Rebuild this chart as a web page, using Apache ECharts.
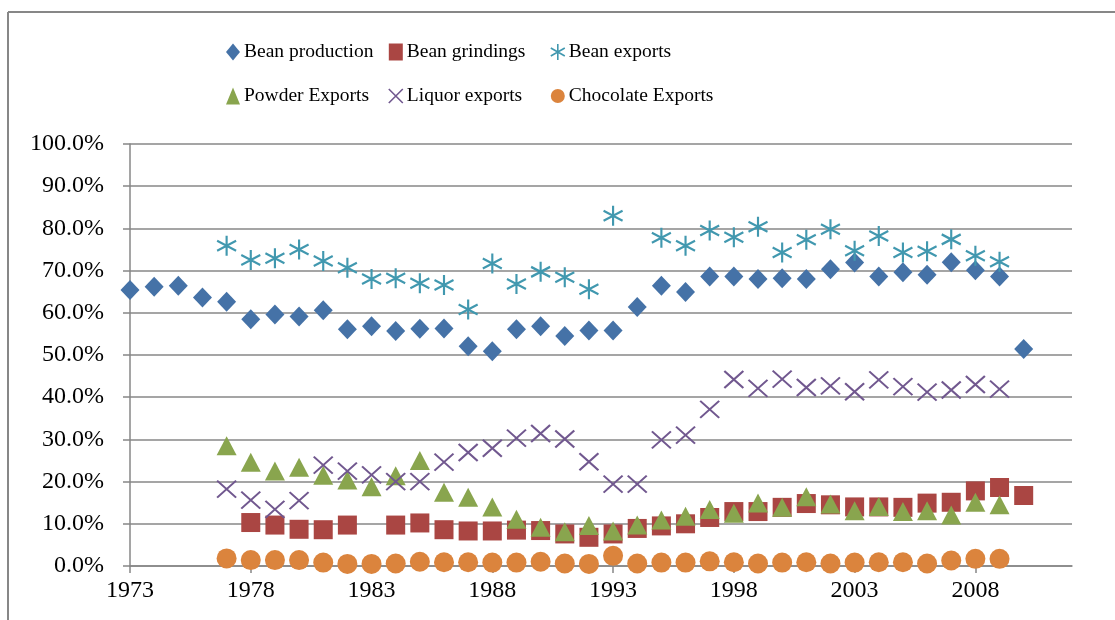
<!DOCTYPE html>
<html>
<head>
<meta charset="utf-8">
<script src="https://cdn.jsdelivr.net/npm/echarts@6/dist/echarts.min.js"></script>
<style>html,body{margin:0;padding:0;background:#fff}#c{width:1115px;height:620px}</style>
</head>
<body>
<div id="c"></div>
<script>
const years = [1973,1974,1975,1976,1977,1978,1979,1980,1981,1982,1983,1984,1985,1986,1987,1988,1989,1990,1991,1992,1993,1994,1995,1996,1997,1998,1999,2000,2001,2002,2003,2004,2005,2006,2007,2008,2009,2010];
const beanProduction = [65.4,66.2,66.4,63.6,62.6,58.5,59.6,59.1,60.6,56.1,56.8,55.7,56.2,56.3,52.1,50.9,56.1,56.8,54.5,55.8,55.8,61.4,66.4,64.9,68.6,68.6,68.0,68.2,68.0,70.3,71.9,68.6,69.6,69.0,72.0,70.1,68.6,51.4];
const beanGrindings = [null,null,null,null,null,10.3,9.7,8.7,8.6,9.7,null,9.7,10.2,8.6,8.3,8.3,8.5,8.4,7.6,6.8,7.6,8.9,9.5,10.0,11.5,12.9,12.9,13.9,14.8,14.5,14.0,14.0,13.9,14.9,15.1,17.8,18.6,16.7];
const beanExports = [null,null,null,null,75.9,72.5,72.9,75.0,72.3,70.7,68.0,68.2,67.0,66.6,60.8,71.7,66.8,69.7,68.4,65.6,83.0,null,77.8,75.9,79.5,77.9,80.4,74.3,77.3,79.8,74.7,78.2,74.3,74.6,77.4,73.5,72.1,null];
const powderExports = [null,null,null,null,28.5,24.6,22.5,23.4,21.5,20.4,18.8,21.4,25.0,17.5,16.3,14.0,11.1,9.2,8.1,9.6,8.3,9.7,10.9,11.8,13.4,12.5,14.9,13.9,16.4,14.7,13.1,14.1,12.9,13.1,12.1,15.1,14.5,null];
const liquorExports = [null,null,null,null,18.2,15.6,13.4,15.5,23.9,22.5,21.6,20.0,20.0,24.6,26.9,27.9,30.3,31.4,30.1,24.7,19.4,19.4,29.9,31.0,37.1,44.2,42.1,44.3,42.3,42.7,41.3,44.1,42.5,41.2,41.7,43.0,41.9,null];
const chocolateExports = [null,null,null,null,1.8,1.4,1.4,1.4,0.8,0.5,0.5,0.6,1.0,0.9,0.9,0.8,0.8,1.0,0.6,0.5,2.4,0.6,0.8,0.8,1.1,0.9,0.6,0.8,0.9,0.6,0.8,0.9,0.9,0.6,1.3,1.7,1.7,null];
const xTickLabels = [1973,1978,1983,1988,1993,1998,2003,2008];
const seriesNames = ['Bean production','Bean grindings','Bean exports','Powder Exports','Liquor exports','Chocolate Exports'];

const FONT = 'Liberation Serif';
const GRAY = '#878787';
const ASTERISK = 'path://M10,0 L10,20 M1.34,5 L18.66,15 M1.34,15 L18.66,5';
const XMARK = 'path://M0,0 L20,20 M0,20 L20,0';

function pts(arr){ return years.map((y,i)=>[y, arr[i]]).filter(p=>p[1]!==null); }

const styles = [
  {symbol:'diamond', size:[19,20], item:{color:'#4572A7', opacity:1}},
  {symbol:'rect', size:[19,19], item:{color:'#AA4643', opacity:1}},
  {symbol:ASTERISK, size:[19,20], item:{color:'rgba(0,0,0,0)', borderColor:'#4198AF', borderWidth:2.2, opacity:1}},
  {symbol:'triangle', size:[20,19], item:{color:'#89A54E', opacity:1}},
  {symbol:XMARK, size:[19,17], item:{color:'rgba(0,0,0,0)', borderColor:'#71588F', borderWidth:2, opacity:1}},
  {symbol:'circle', size:[20,20], item:{color:'#DB843D', opacity:1}}
];
const dataArrs = [beanProduction, beanGrindings, beanExports, powderExports, liquorExports, chocolateExports];

const series = seriesNames.map((n,i)=>({
  name:n, type:'scatter', data:pts(dataArrs[i]),
  symbol:styles[i].symbol, symbolSize:styles[i].size, itemStyle:styles[i].item
}));

function legendItem(i){
  const it = {name:seriesNames[i], icon:styles[i].symbol, itemStyle:Object.assign({}, styles[i].item)};
  if (it.itemStyle.borderWidth) it.itemStyle.borderWidth = 1.6;
  return it;
}
function mkLegend(left, idxs){
  return {
    orient:'vertical', left:left, top:42, padding:0, itemGap:24,
    itemWidth:14, itemHeight:17, selectedMode:false,
    textStyle:{fontFamily:FONT, fontSize:19.5, color:'#000', lineHeight:20, padding:[0,0,0,-1]},
    data: idxs.map(legendItem)
  };
}

const chart = echarts.init(document.getElementById('c'), null, {renderer:'canvas'});
chart.setOption({
  animation:false,
  backgroundColor:'#fff',
  graphic:[
    {type:'line', shape:{x1:8,y1:12,x2:1115,y2:12}, style:{stroke:GRAY, lineWidth:2}},
    {type:'line', shape:{x1:8,y1:12,x2:8,y2:620}, style:{stroke:GRAY, lineWidth:2}}
  ],
  legend:[mkLegend(226,[0,3]), mkLegend(388,[1,4]), mkLegend(550,[2,5])],
  grid:{left:130, right:43, top:144, bottom:54, containLabel:false},
  xAxis:{
    type:'value', min:1973, max:2012, interval:5,
    axisLine:{lineStyle:{color:GRAY, width:1.5}},
    axisTick:{show:true, inside:false, length:7, lineStyle:{color:GRAY, width:1.5}, customValues:xTickLabels},
    splitLine:{show:false},
    axisLabel:{fontFamily:FONT, fontSize:24, color:'#000', margin:13, customValues:xTickLabels, formatter:v=>String(v)}
  },
  yAxis:{
    type:'value', min:0, max:100, interval:10,
    axisLine:{show:true, lineStyle:{color:GRAY, width:1.5}},
    axisTick:{show:true, length:7, lineStyle:{color:GRAY, width:1.5}},
    splitLine:{show:true, lineStyle:{color:GRAY, width:1.5}},
    axisLabel:{fontFamily:FONT, fontSize:24, color:'#000', margin:26, formatter:v=>v.toFixed(1)+'%'}
  },
  series:series
});
</script>
</body>
</html>
